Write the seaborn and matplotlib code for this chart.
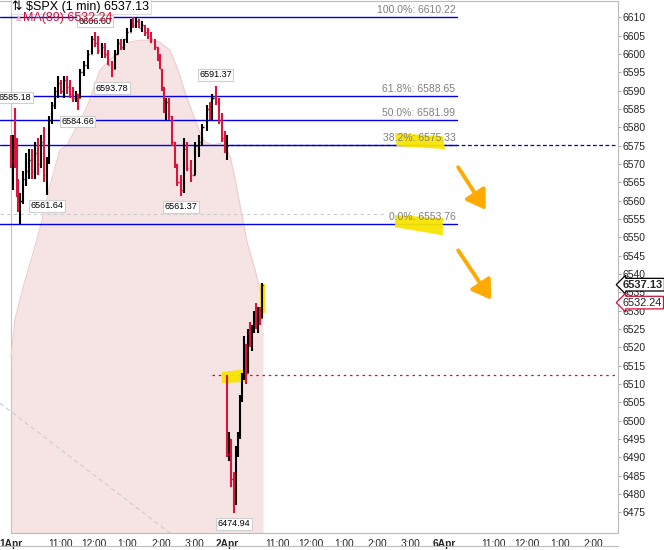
import numpy as np
import pandas as pd
import seaborn as sns
import matplotlib.pyplot as plt
import matplotlib.transforms as mtransforms
from matplotlib.patches import Polygon, FancyArrowPatch
from matplotlib.lines import Line2D

# bars, x = minutes after 1Apr 9:30 (2Apr open = 390)
bar_min = [0, 4, 7, 10, 13, 17, 22, 27, 32, 38, 43, 49, 54, 59, 65, 68, 74, 79, 85, 90,
           95, 101, 106, 112, 117, 120, 124, 131, 138, 146, 151, 156, 164, 169, 174, 182, 187, 192, 198, 203,
           209, 216, 219, 225, 230, 236, 241, 246, 252, 259, 264, 268, 272, 275, 279, 284, 290, 295, 300, 306,
           311, 317, 324, 331, 338, 345, 353, 358, 363, 369, 374, 380, 385, 389,
           390, 393, 397, 402, 405, 409, 412, 416, 420, 423, 427, 430, 434, 438, 441, 445, 448, 452]
bar_open = [6577, 6571, 6575, 6572, 6564, 6559, 6560, 6566, 6568, 6571, 6568, 6573, 6570, 6576, 6567, 6571, 6582, 6586, 6590, 6592,
            6590, 6593, 6591, 6589, 6588, 6589, 6588, 6595, 6597, 6600, 6604, 6603, 6601, 6602, 6600, 6597, 6596, 6600, 6603, 6602,
            6604, 6606, 6609, 6608, 6609, 6607, 6608, 6606, 6605, 6604, 6602, 6599, 6596, 6591, 6585, 6587, 6583, 6576, 6570, 6565,
            6563, 6574, 6569, 6567, 6575, 6576, 6580, 6585, 6583, 6588, 6587, 6582, 6577, 6574,
            6512.4, 6491, 6495, 6484, 6478, 6491, 6496, 6506, 6512, 6521, 6513, 6524, 6522, 6525, 6529, 6527, 6530, 6528]
bar_high = [6578, 6578, 6585.18, 6577, 6566, 6562, 6568, 6573, 6574, 6574, 6576, 6577, 6578, 6580, 6572, 6583, 6587, 6591, 6594, 6593,
            6594, 6594, 6593, 6591, 6590, 6589, 6596, 6598, 6601, 6605, 6606.00, 6605, 6603, 6603, 6601, 6598, 6601, 6604, 6604, 6604,
            6607, 6609.5, 6610.22, 6610, 6609.5, 6609, 6608, 6607, 6606, 6604, 6602, 6600, 6596, 6591, 6588, 6588, 6583, 6576, 6570, 6567,
            6577, 6576, 6571, 6576, 6578, 6581, 6586, 6587, 6589, 6591.37, 6588, 6584, 6579, 6578,
            6512.4, 6497, 6495, 6486, 6493, 6497, 6507, 6513, 6523, 6521, 6525, 6527, 6526, 6530, 6532, 6531, 6531, 6537.5]
bar_low = [6569, 6563, 6569, 6561, 6557, 6553.76, 6559, 6564, 6566, 6566, 6566, 6567, 6569, 6565, 6561.64, 6570, 6581, 6585, 6588, 6589,
           6588, 6589, 6588, 6587, 6587, 6584.66, 6588, 6594, 6596, 6600, 6602, 6600, 6599, 6599, 6597, 6593.78, 6596, 6600, 6601, 6601,
           6603, 6606, 6607, 6607, 6607, 6606, 6605, 6604, 6603, 6601, 6598, 6596, 6590, 6584, 6582, 6582, 6575, 6569, 6564, 6561.37,
           6562, 6568, 6565, 6567, 6572, 6575, 6579, 6582, 6582, 6586, 6581, 6576, 6573, 6571,
           6490, 6489, 6482, 6474.94, 6477, 6490, 6495, 6505, 6511, 6510, 6513, 6520, 6519, 6524, 6525, 6524, 6526, 6528]
bar_close = [6571, 6575, 6572, 6564, 6559, 6560, 6566, 6568, 6571, 6568, 6573, 6570, 6576, 6567, 6571, 6582, 6586, 6590, 6592, 6590,
             6593, 6591, 6589, 6588, 6589, 6588, 6595, 6597, 6600, 6604, 6603, 6601, 6602, 6600, 6597, 6596, 6600, 6603, 6602, 6604,
             6606, 6609, 6608, 6609, 6607, 6608, 6606, 6605, 6604, 6602, 6599, 6596, 6591, 6585, 6587, 6583, 6576, 6570, 6565, 6563,
             6574, 6569, 6567, 6575, 6576, 6580, 6585, 6583, 6588, 6587, 6582, 6577, 6574, 6575,
             6491, 6495, 6484, 6478, 6491, 6496, 6506, 6512, 6521, 6513, 6524, 6522, 6525, 6529, 6527, 6530, 6528, 6537.13]

# MA(89)
ma_min = [0, 7, 22, 40, 56, 70, 88, 101, 137, 160, 178, 196, 214, 232, 250, 268,
          286, 299, 314, 323, 332, 341, 350, 364, 377, 386, 395, 405, 416, 425, 440, 454]
ma_val = [6517.4, 6527.5, 6536.5, 6545.8, 6554.7, 6564.0, 6573.8, 6575.2, 6585.6, 6595.6, 6598.4, 6601.1, 6603.3, 6603.8, 6603.8, 6603.3,
          6601.1, 6596.5, 6589.4, 6585.6, 6582.0, 6578.5, 6576.0, 6575.2, 6575.7, 6575.0, 6572.0, 6565.0, 6556.0, 6549.0, 6541.0, 6532.24]

fib_pct = ['100.0%', '61.8%', '50.0%', '38.2%', '0.0%']
fib_val = [6610.22, 6588.65, 6581.99, 6575.33, 6553.76]

swing_val = [6585.18, 6606.00, 6593.78, 6584.66, 6561.64, 6591.37, 6561.37, 6474.94]
swing_min = [7, 151, 182, 120, 65, 369, 306, 402]
swing_side = [1, 1, -1, -1, -1, 1, -1, -1]

last_price = 6537.13
ma_last = 6532.24
gap_level = 6512.5
grey_level = 6556.3

tick_min = [0, 90, 150, 210, 270, 330, 390, 480, 540, 600, 660, 720, 780, 870, 930, 990, 1050]
tick_lab = ['1Apr', '11:00', '12:00', '1:00', '2:00', '3:00', '2Apr', '11:00', '12:00', '1:00', '2:00', '3:00',
            '6Apr', '11:00', '12:00', '1:00', '2:00']
ytick_vals = [6475, 6480, 6485, 6490, 6495, 6500, 6505, 6510, 6515, 6520, 6525, 6530, 6535, 6540,
              6545, 6550, 6555, 6560, 6565, 6570, 6575, 6580, 6585, 6590, 6595, 6600, 6605, 6610]

bars = pd.DataFrame({'t': bar_min, 'o': bar_open, 'h': bar_high, 'l': bar_low, 'c': bar_close})
ma = pd.DataFrame({'t': ma_min, 'ma': ma_val})

sns.set_style('white')
plt.rcParams['font.family'] = ['Liberation Sans', 'DejaVu Sans']

fig = plt.figure(figsize=(6.64, 5.5), dpi=100)
ax = fig.add_axes([0, 17 / 550, 618 / 664, 532 / 550])
x0, x1 = -19.8, 1093.7
y0, y1 = 6469.4, 6614.5
ax.set_xlim(x0, x1)
ax.set_ylim(y0, y1)

# MA(89) area
ax.fill_between(ma['t'], ma['ma'], y0, color='#f6e4e4', lw=0, zorder=1)
sns.lineplot(data=ma, x='t', y='ma', ax=ax, color='#f1caca', lw=0.8, zorder=1.5)

ax.axvline(0, color='#c4c4c4', lw=0.8, zorder=1.2)

# grey diagonal + grey dashed level
ax.plot([x0, 420], [6504.8, 6504.8 - 0.1156 * (420 - x0)], color='#cccccc', lw=0.8, ls=(0, (4, 3)), zorder=1.3)
ax.plot([x0, 672], [grey_level, grey_level], color='#cccccc', lw=0.8, ls=(0, (3, 3)), zorder=1.3)

# fib lines
fib_end = 803
for pct, v in zip(fib_pct, fib_val):
    ax.plot([x0, fib_end], [v, v], color='#0000ee', lw=1.0, zorder=2)
    ax.annotate('%s: %.2f' % (pct, v), (fib_end, v), xytext=(-1, 1.5), textcoords='offset points',
                ha='right', va='bottom', fontsize=7.5, color='#808080', zorder=6)
ax.plot([395, x1], [fib_val[3], fib_val[3]], color='#0000cc', lw=0.9, ls=(0, (3, 2)), zorder=2)
ax.plot([362, x1], [gap_level, gap_level], color='#d01030', lw=0.9, ls=(0, (2, 3)), zorder=2)

# yellow highlighter marks
yel = '#f8e400'
for pts in [[(692, 6578.5), (778, 6577.6), (782, 6574.1), (695, 6574.9)],
            [(692, 6556.1), (778, 6555.3), (778, 6550.6), (692, 6552.8)],
            [(380, 6513.3), (425, 6514.1), (425, 6510.6), (380, 6510.3)],
            [(449, 6537.3), (457.5, 6537.3), (457.5, 6529.4), (449, 6529.4)]]:
    ax.add_patch(Polygon(pts, closed=True, fc=yel, ec='none', alpha=0.95, zorder=2.5))

# price bars
up = bars['c'] >= bars['o']
for is_up, col in [(True, '#000000'), (False, '#dc143c')]:
    b = bars[up == is_up]
    ax.vlines(b['t'], b['l'], b['h'], color=col, lw=1.5, zorder=3)
    ax.hlines(b['o'], b['t'] - 2.2, b['t'], color=col, lw=1.0, zorder=3)
    ax.hlines(b['c'], b['t'], b['t'] + 2.2, color=col, lw=1.0, zorder=3)

# swing labels
for v, t, s in zip(swing_val, swing_min, swing_side):
    ax.annotate('%.2f' % v, (t, v), xytext=(0, 8 * s), textcoords='offset points',
                ha='center', va='center', fontsize=6.5, color='black', zorder=7, annotation_clip=False,
                bbox=dict(boxstyle='square,pad=0.15', fc='white', ec='#cfcfcf', lw=0.8))

# orange arrows
for (xa, ya), (xb, yb) in [((803, 6569.8), (858, 6556.9)), ((803, 6547.1), (868, 6532.4))]:
    ax.add_patch(FancyArrowPatch((xa, ya), (xb, yb), arrowstyle='-|>,head_length=7,head_width=4.5',
                                 color='#ffaa00', lw=2.8, zorder=5, mutation_scale=1.6))

# axes styling
ax.yaxis.tick_right()
ax.set_yticks(ytick_vals)
ax.set_yticklabels([str(v) for v in ytick_vals], fontsize=7.5)
ax.tick_params(axis='y', length=2, width=0.6, color='#999999', pad=1.5)
ax.set_xticks(tick_min)
ax.set_xticklabels(tick_lab, fontsize=7.3)
ax.tick_params(axis='x', length=3, width=0.6, color='#bbbbbb', pad=1.5)
for lab in ax.get_xticklabels():
    if 'Apr' in lab.get_text():
        lab.set_fontweight('bold')
ax.set_xlabel('')
ax.set_ylabel('')
for side in ['top', 'right', 'bottom']:
    ax.spines[side].set_color('#bbbbbb')
    ax.spines[side].set_linewidth(0.8)
ax.spines['right'].set_linestyle((0, (1, 1)))
ax.spines['bottom'].set_bounds(0, x1)
ax.spines['left'].set_visible(False)

# last price / MA tags on the right axis
blend = mtransforms.blended_transform_factory(ax.transAxes, ax.transData)
ax.text(1.008, last_price, '%.2f' % last_price, transform=blend, ha='left', va='center', fontsize=8,
        fontweight='bold', zorder=8, clip_on=False,
        bbox=dict(boxstyle='larrow,pad=0.12', fc='white', ec='black', lw=0.9))
ax.text(1.008, ma_last, '%.2f' % ma_last, transform=blend, ha='left', va='center', fontsize=7.8,
        color='#222222', zorder=8, clip_on=False,
        bbox=dict(boxstyle='larrow,pad=0.12', fc='white', ec='#d0103a', lw=0.9))

# legend in top-left
ax.text(0.02, 0.99, '\u21c5 \\$SPX (1 min) %.2f' % last_price, transform=ax.transAxes, ha='left', va='center',
        fontsize=9, color='black', zorder=9,
        bbox=dict(boxstyle='square,pad=0.1', fc='white', ec='#cccccc', lw=0.6, alpha=0.85))
ax.text(0.021, 0.968, '\u25b2', transform=ax.transAxes, ha='left', va='center', fontsize=7,
        color='#f2b8b8', zorder=9)
ax.text(0.038, 0.968, 'MA(89) %.2f' % ma_last, transform=ax.transAxes, ha='left', va='center',
        fontsize=9, color='#d0103a', zorder=9)

# top edge of the lower pane
fig.add_artist(Line2D([0, 618 / 664], [4 / 550, 4 / 550], color='#bbbbbb', lw=0.8))

fig.savefig('out.png', dpi=100)
